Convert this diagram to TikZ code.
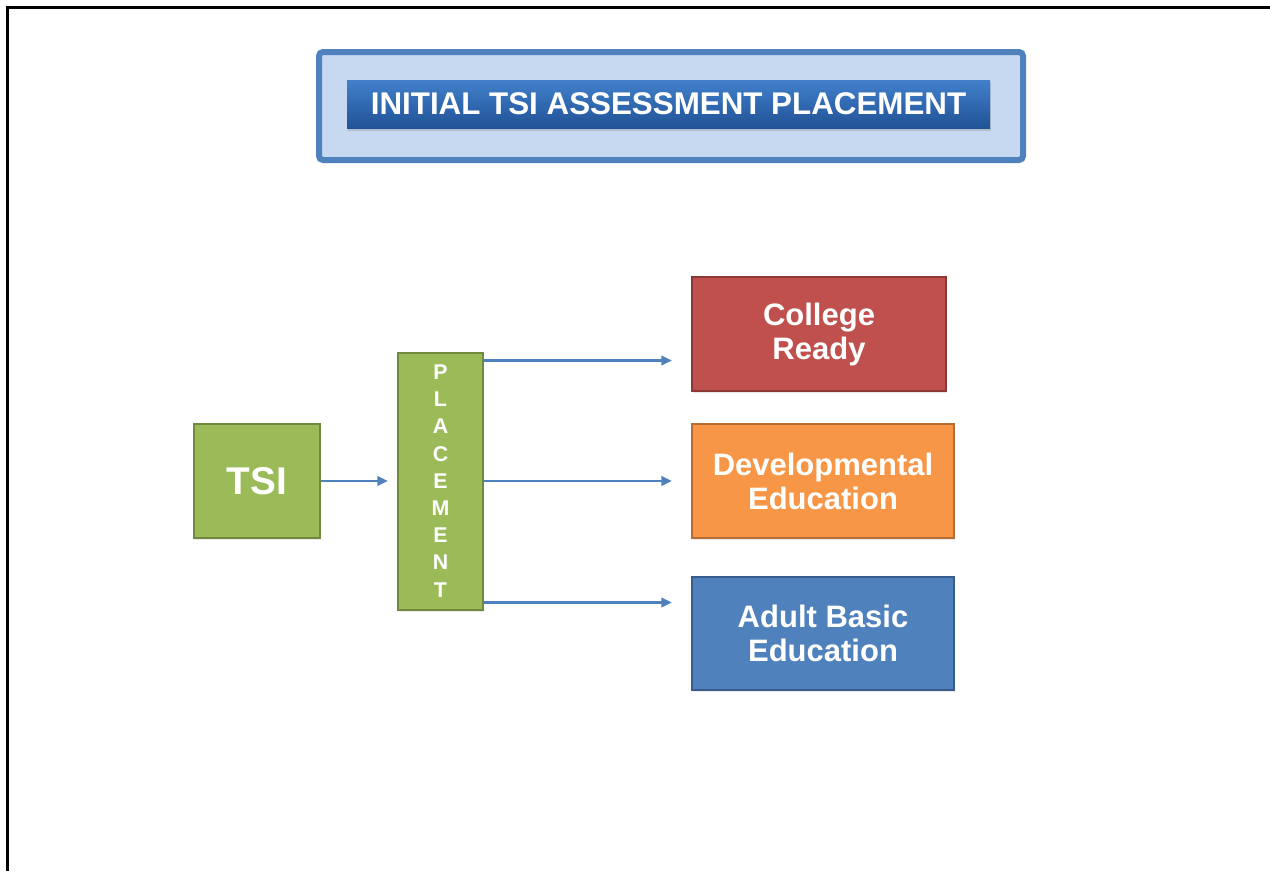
\documentclass[tikz,border=0pt]{standalone}
\usepackage{fontspec}
\setmainfont{Liberation Sans}
\usetikzlibrary{arrows.meta,shadows}

\definecolor{tsigreen}{RGB}{155,187,89}
\definecolor{tsigreenedge}{RGB}{113,137,63}
\definecolor{readyred}{RGB}{192,80,77}
\definecolor{readyrededge}{RGB}{140,56,54}
\definecolor{devorange}{RGB}{247,150,70}
\definecolor{devorangeedge}{RGB}{182,109,49}
\definecolor{abeblue}{RGB}{79,129,189}
\definecolor{abeblueedge}{RGB}{56,93,138}
\definecolor{framefill}{RGB}{199,217,241}
\definecolor{bartop}{RGB}{66,128,204}
\definecolor{barbottom}{RGB}{32,82,150}

\begin{document}
\begin{tikzpicture}[x=0.75pt,y=0.75pt,yscale=-1,xscale=1,
  box/.style={draw, line width=1.5pt, text=white, align=center, inner sep=0pt,
    font=\bfseries\fontsize{23.25}{25.5}\selectfont,
    drop shadow={opacity=0.18, shadow xshift=1pt, shadow yshift=-1.5pt}},
  flow/.style={draw=abeblue, line width=2.2pt, -{Triangle[length=8pt,width=7pt]}}]
\useasboundingbox (0,0) rectangle (1270,871);

%page frame
\draw [line width=1.6pt] (7.5,871) -- (7.5,7.5) -- (1270,7.5) ;

%Title frame
\node [draw=abeblue, fill=framefill, line width=4.5pt, rounded corners=3pt,
  minimum width=528pt, minimum height=81pt,
  drop shadow={opacity=0.2, shadow xshift=1pt, shadow yshift=-1.5pt}] (frame) at (671,106) {};
%Title bar
\node [top color=bartop, bottom color=barbottom, text=white, inner sep=0pt,
  minimum width=482.25pt, minimum height=36pt,
  font=\bfseries\fontsize{23.5}{26}\selectfont,
  drop shadow={opacity=0.3, shadow xshift=0.5pt, shadow yshift=-2pt}] (title) at (668.5,104) {INITIAL TSI ASSESSMENT PLACEMENT};

% Boxes
\node [box, fill=tsigreen, draw=tsigreenedge, minimum width=94.5pt, minimum height=85.5pt,
  font=\bfseries\fontsize{29}{30}\selectfont] (tsi) at (257,481) {TSI};
\node [box, fill=tsigreen, draw=tsigreenedge, minimum width=63.75pt, minimum height=192.75pt,
  font=\bfseries\fontsize{16}{20.4}\selectfont] (place) at (440.5,481) {P\\L\\A\\C\\E\\M\\E\\N\\T};
\node [box, fill=readyred, draw=readyrededge, minimum width=190.5pt, minimum height=85.5pt] (ready) at (819,334) {College\\Ready};
\node [box, fill=devorange, draw=devorangeedge, minimum width=196.5pt, minimum height=85.5pt] (dev) at (823,481) {Developmental\\Education};
\node [box, fill=abeblue, draw=abeblueedge, minimum width=196.5pt, minimum height=84.75pt] (abe) at (823,633.5) {Adult Basic\\Education};

% Arrows
\draw [flow, shorten >=6.75pt] (tsi) -- (place) ;
\draw [flow, shorten >=14.25pt] ([yshift=6.75pt]place.north east) -- ([yshift=6.75pt]place.north east -| ready.west) ;
\draw [flow, shorten >=14.25pt] (place) -- (dev) ;
\draw [flow, shorten >=14.25pt] ([yshift=-6pt]place.south east) -- ([yshift=-6pt]place.south east -| abe.west) ;

\end{tikzpicture}
\end{document}
